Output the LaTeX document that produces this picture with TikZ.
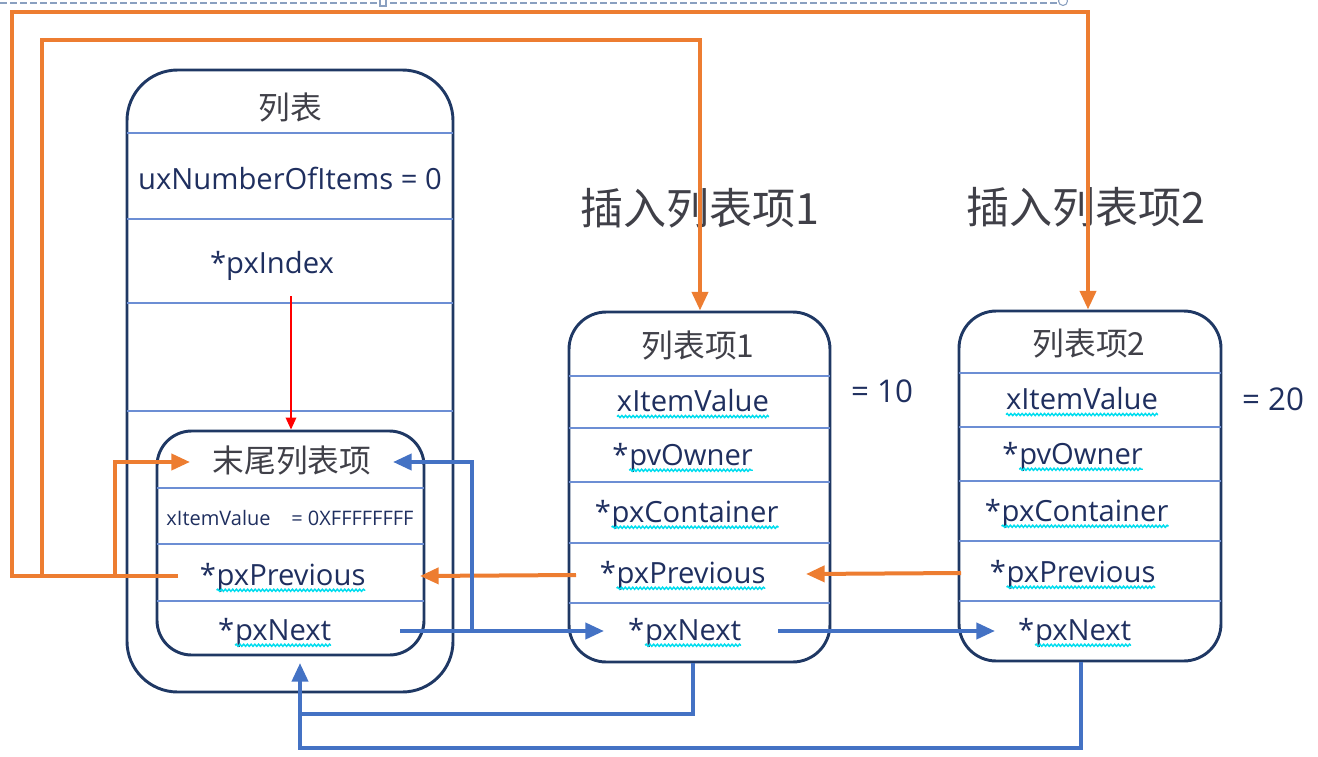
\documentclass[tikz,border=0pt]{standalone}
\usepackage{fontspec}
\setmainfont{Open Sans}
\newfontfamily\cjk{Noto Sans CJK SC}
\usetikzlibrary{arrows.meta,decorations.pathmorphing}
\definecolor{navy}{HTML}{1F3864}
\definecolor{divc}{HTML}{6C8ED4}
\definecolor{txt}{HTML}{1F2F5F}
\definecolor{ttl}{HTML}{404048}
\definecolor{org}{HTML}{ED7D31}
\definecolor{blu}{HTML}{4472C4}
\definecolor{sqc}{HTML}{00DDEE}
\definecolor{selc}{HTML}{8AA0C0}
\newcommand\wv[1]{\tikz[baseline=(w.base)]{\node[inner sep=0pt,outer sep=0pt](w){#1};\draw[sqc,line width=1.1pt,decorate,decoration={snake,amplitude=0.8pt,segment length=2.8pt}]([yshift=-3.5pt]w.base west)--([yshift=-3.5pt]w.base east);}}
\tikzset{
  box/.style={draw=navy,line width=2.2pt,rectangle,inner sep=0pt},
  divl/.style={divc,line width=1pt},
  lbl/.style={text=txt,inner sep=0pt,font=\fontsize{21.9}{26}\selectfont},
  eqs/.style={text=txt,inner sep=0pt,font=\fontsize{23.5}{28}\selectfont},
  small/.style={text=txt,inner sep=0pt,font=\fontsize{15}{18}\selectfont},
  ctl/.style={text=ttl,inner sep=0pt,font=\cjk\fontsize{23.8}{28}\selectfont},
  head/.style={text=ttl,inner sep=0pt,font=\cjk\fontsize{32.3}{38}\selectfont},
  oline/.style={org,line width=3pt},
  bline/.style={blu,line width=3pt},
  oarr/.style={oline,-{Triangle[length=14pt,width=12pt]}},
  barr/.style={bline,-{Triangle[length=14pt,width=12pt]}},
}
\begin{document}
\begin{tikzpicture}[x=0.75pt,y=-0.75pt]
\useasboundingbox (0,0) rectangle (1318,757);
% selection artifact at top
\draw[selc,line width=1.2pt,dash pattern=on 5pt off 2.5pt] (0,3) -- (1058,3);
\draw[selc,line width=0.8pt,fill=white] (380,-2) rectangle (386,6);
\draw[selc,line width=0.8pt,fill=white] (1063,1) circle (4.5);

% boxes
\node[box,rounded corners=38pt,minimum width=244.5pt,minimum height=466.5pt] (list) at (290,381) {};
\node[box,rounded corners=26pt,minimum width=200.25pt,minimum height=168pt] (endi) at (290.5,543) {};
\node[box,rounded corners=28pt,minimum width=195.75pt,minimum height=262.5pt] (item1) at (699.5,487) {};
\node[box,rounded corners=28pt,minimum width=196.5pt,minimum height=262.5pt] (item2) at (1090,486) {};

% dividers
\foreach \y in {133,219,303,411} \draw[divl] (127,\y) -- (453,\y);
\foreach \y in {488,544,601} \draw[divl] (157,\y) -- (424,\y);
\foreach \y in {376,428,482,543,603} \draw[divl] (569,\y) -- (830,\y);
\foreach \y in {373,427,481,541,601} \draw[divl] (959,\y) -- (1221,\y);

% list texts
\node[ctl] (ltitle) at (290,108) {列表};
\node[lbl] (lnum) at (290,178) {uxNumberOfItems = 0};
\node[lbl] (lidx) at (272,266) {*pxIndex};
% end item texts
\node[ctl] (etitle) at (292,461) {末尾列表项};
\node[small] (eval) at (290,518) {xItemValue\ \ \ \ = 0XFFFFFFFF};
\node[lbl] (eprev) at (283,578) {*\wv{pxPrevious}};
\node[lbl] (enext) at (275,633) {*\wv{pxNext}};
% item1 texts
\node[ctl] (t1) at (698,346) {列表项1};
\node[lbl] (v1) at (693,404) {\wv{xItemValue}};
\node[lbl] (o1) at (683,458) {*\wv{pvOwner}};
\node[lbl] (c1) at (687,515) {*\wv{pxContainer}};
\node[lbl] (p1) at (683,576) {*\wv{pxPrevious}};
\node[lbl] (n1) at (685,633) {*\wv{pxNext}};
\node[eqs] (eq1) at (882,391) {= 10};
% item2 texts
\node[ctl] (t2) at (1089,344) {列表项2};
\node[lbl] (v2) at (1082,402) {\wv{xItemValue}};
\node[lbl] (o2) at (1073,457) {*\wv{pvOwner}};
\node[lbl] (c2) at (1077,514) {*\wv{pxContainer}};
\node[lbl] (p2) at (1073,575) {*\wv{pxPrevious}};
\node[lbl] (n2) at (1075,633) {*\wv{pxNext}};
\node[eqs] (eq2) at (1273,399) {= 20};
% headings
\node[head] (h1) at (700,208) {插入列表项1};
\node[head] (h2) at (1086,207) {插入列表项2};

% connector coordinates
\coordinate (es) at (178,576);
\coordinate (etip) at (190,462);
\coordinate (p1s) at (576,575);
\coordinate (p1t) at (420,576);
\coordinate (p2s) at (961,573);
\coordinate (p2t) at (806,574);
\coordinate (ens) at (400,631);
\coordinate (n1t) at (604,631);
\coordinate (br) at (472,631);
\coordinate (etipb) at (393,462);
\coordinate (n1s) at (778,631);
\coordinate (n2t) at (995,631);
\coordinate (enb) at (300,663);

% red pxIndex arrow
\draw[red,line width=1pt,-{Triangle[length=9pt,width=8pt]}] (291,296) -- (endi.north -| 291,0);

% orange
\draw[oarr] (es) -- (12,576) -- (12,12) -| (item2.north -| 1088,0);
\draw[oarr] (42,576) -- (42,40) -| (item1.north -| 700,0);
\draw[oarr] (115,576) -- (115,462) -- (etip);
\draw[oarr] (p1s) -- (p1t);
\draw[oarr] (p2s) -- (p2t);

% blue
\draw[barr] (ens) -- (n1t);
\draw[barr] (br) -- (472,462) -- (etipb);
\draw[barr] (n1s) -- (n2t);
\draw[bline] (item1.south -| 693,0) -- (693,714) -- (300,714);
\draw[barr] (item2.south -| 1081,0) -- (1081,748) -- (300,748) -- (enb);
\end{tikzpicture}
\end{document}
